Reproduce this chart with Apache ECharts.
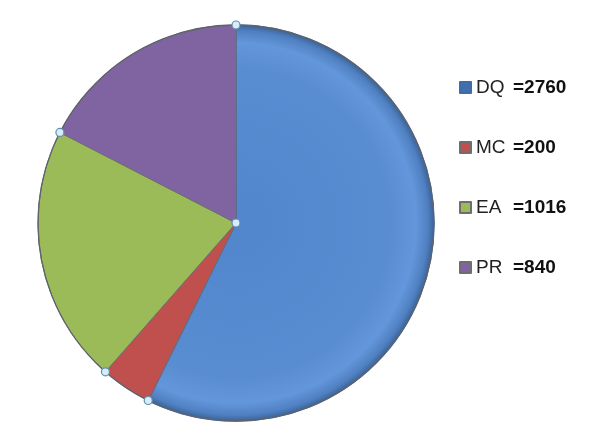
<!DOCTYPE html>
<html>
<head>
<meta charset="utf-8">
<script src="https://cdn.jsdelivr.net/npm/echarts@6/dist/echarts.min.js"></script>
<style>
  html, body { margin: 0; padding: 0; background: #ffffff; }
  #chart { width: 604px; height: 441px; }
</style>
</head>
<body>
<div id="chart"></div>
<script>
// Slice names and values
const categories = ['DQ', 'MC', 'EA', 'PR'];
const values = [2760, 200, 1016, 840];
const colors = ['#5589cf', '#c0504d', '#9bbb59', '#8064a2'];

const cx = 236, cy = 223, R = 198;

const chart = echarts.init(document.getElementById('chart'), null, { renderer: 'canvas' });

// The first slice carries a bevelled, glossy fill; the rest are flat
const data = categories.map((name, i) => ({
  name: name,
  value: values[i],
  itemStyle: i === 0 ? {
    color: {
      type: 'radial', x: cx, y: cy, r: R, global: true,
      colorStops: [
        { offset: 0, color: '#5286cc' },
        { offset: 0.78, color: '#598dd2' },
        { offset: 0.91, color: '#6396da' },
        { offset: 0.97, color: '#4f80c2' },
        { offset: 1, color: '#3d6396' }
      ]
    },
    borderColor: '#3e6ca8',
    borderWidth: 1.5
  } : {
    color: colors[i],
    borderColor: '#6e6e6e',
    borderWidth: 1
  }
}));

// Selection handles at the slice boundaries, placed from the cumulative angles
function handles() {
  const total = values.reduce((a, b) => a + b, 0);
  const pts = [[cx, cy]];
  let acc = 0;
  values.forEach(v => {
    const ang = acc / total * Math.PI * 2; // clockwise from top
    pts.push([cx + R * Math.sin(ang), cy - R * Math.cos(ang)]);
    acc += v;
  });
  return pts.map(p => ({
    type: 'circle',
    shape: { cx: p[0], cy: p[1], r: 4 },
    style: { fill: '#d8ecfa', stroke: '#5f8fae', lineWidth: 1.2 },
    z: 100
  }));
}

chart.setOption({
  backgroundColor: '#ffffff',
  animation: false,
  legend: {
    orient: 'vertical',
    left: 454,
    top: 73,
    itemWidth: 11,
    itemHeight: 11,
    itemGap: 41,
    icon: 'rect',
    data: categories.map((name, i) => ({
      name: name,
      itemStyle: { color: i === 0 ? '#3f6fae' : colors[i] }
    })),
    formatter: function (name) {
      const i = categories.indexOf(name);
      return '{n|' + name + '}{v|=' + values[i] + '}';
    },
    textStyle: {
      rich: {
        n: { fontFamily: 'Liberation Sans, Arial', fontSize: 19, color: '#222', width: 37, height: 20 },
        v: { fontFamily: 'Liberation Sans, Arial', fontSize: 19, fontWeight: 'bold', color: '#111', height: 20 }
      }
    }
  },
  series: [{
    type: 'pie',
    center: [cx, cy],
    radius: [0, R],
    startAngle: 90,
    clockwise: true,
    label: { show: false },
    labelLine: { show: false },
    emphasis: { disabled: true },
    data: data
  }],
  graphic: [{
    type: 'circle',
    shape: { cx: cx, cy: cy, r: R },
    style: { fill: 'none', stroke: '#5e636b', lineWidth: 1.3 },
    z: 90
  }].concat(handles())
});
</script>
</body>
</html>
